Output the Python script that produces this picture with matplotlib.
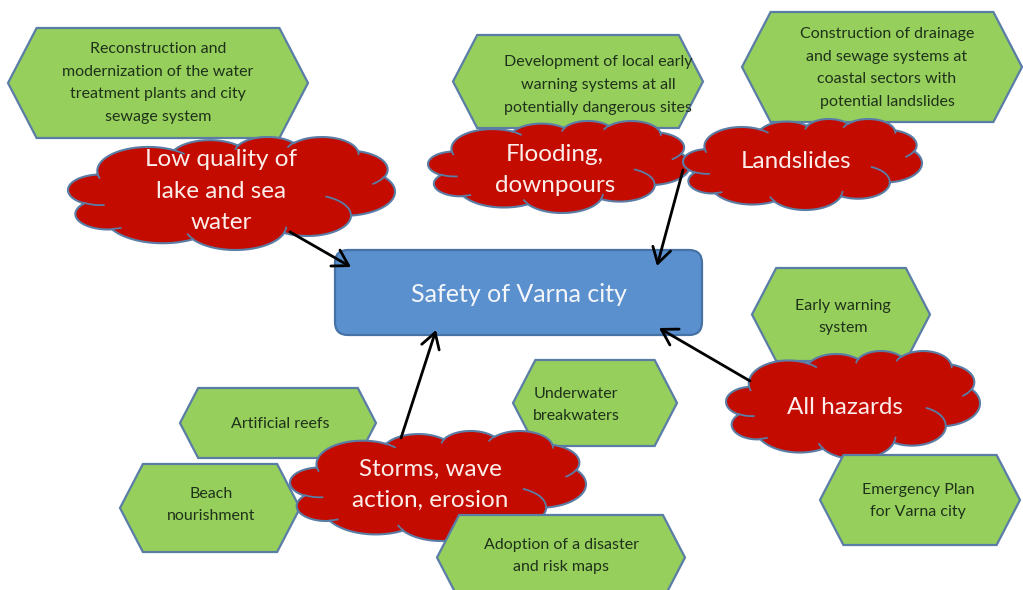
import numpy as np
import matplotlib
matplotlib.use('Agg')
import matplotlib.pyplot as plt
from matplotlib.patches import Polygon, FancyBboxPatch, FancyArrowPatch

plt.rcParams['font.family'] = ['Lato', 'DejaVu Sans']

# ---------------- content ----------------
center_label = "Safety of Varna city"

hazard_labels = [
    "Low quality of\nlake and sea\nwater",
    "Flooding,\ndownpours",
    "Landslides",
    "All hazards",
    "Storms, wave\naction, erosion",
]

measure_labels = [
    "Reconstruction and\nmodernization of the water\ntreatment plants and city\nsewage system",
    "Development of local early\nwarning systems at all\npotentially dangerous sites",
    "Construction of drainage\nand sewage systems at\ncoastal sectors with\npotential landslides",
    "Early warning\nsystem",
    "Emergency Plan\nfor Varna city",
    "Underwater\nbreakwaters",
    "Artificial reefs",
    "Beach\nnourishment",
    "Adoption of a disaster\nand risk maps",
]

# ---------------- layout (pixel space) ----------------
hazard_boxes = [(68, 395, 137, 250), (428, 690, 121, 213), (683, 922, 119, 210),
                (726, 980, 351, 459), (290, 586, 431, 541)]
hazard_text = [(221, 191), (555, 170), (796, 162), (845, 408), (430, 485)]

measure_boxes = [(8, 308, 28, 138), (453, 703, 35, 128), (742, 1022, 12, 122),
                 (752, 930, 268, 361), (820, 1020, 455, 545), (513, 677, 360, 446),
                 (180, 376, 388, 458), (120, 300, 464, 552), (437, 685, 515, 600)]
measure_text = [(158, 83), (598, 85), (887, 68), (843, 317), (918, 501),
                (576, 405), (280, 424), (211, 505), (561, 556)]
measure_z = [1, 1, 1, 1, 4, 1, 1, 1, 4]

center_box = (335, 250, 367, 85)
arrows = [((290, 232), (351, 267)), ((683, 170), (657, 266)),
          ((750, 381), (659, 328)), ((401, 438), (436, 330))]

GREEN = '#97CF5C'
EDGE = '#5A7DA6'
RED = '#C30B00'
BLUE = '#5B90CE'
BLUE_EDGE = '#4573A6'
HEX_TEXT = '#1E321A'

# Office "cloud" preset geometry (43200 x 43200 space, angles in 1/60000 deg)
CLOUD_START = (3900, 14370)
CLOUD_ARCS = [(6753, 9190, -11429249, 7426832), (5333, 7267, -8646143, 5396714),
              (4365, 5945, -8748475, 5983381), (4857, 6595, -7859164, 7034504),
              (5333, 7273, -4722533, 6541615), (6775, 9220, -2776035, 7816140),
              (5785, 7867, 37501, 6842000), (6752, 9215, 1347096, 6910353),
              (7720, 10543, 3974558, 4542661), (4360, 5918, -16496525, 8804134),
              (4345, 5945, -14809710, 9151131)]
CLOUD_CURLS = [((4693, 26177), (4345, 5945, 5204520, 1585770)),
               ((6928, 34899), (4360, 5918, 4416628, 686848)),
               ((16478, 39090), (6752, 9215, 8257449, 844866)),
               ((28827, 34751), (6752, 9215, 387196, 959901)),
               ((34129, 22954), (5785, 7867, -4217541, 4255042)),
               ((41798, 15354), (5333, 7273, 1819082, 1665090)),
               ((38324, 5426), (4857, 6595, -824660, 891225)),
               ((29078, 3952), (4857, 6595, -8950887, 1091815)),
               ((22141, 4720), (4365, 5945, -9809656, 1061181)),
               ((14000, 5192), (6753, 9190, -4002417, 739161)),
               ((4127, 15789), (6753, 9190, 9459261, 711490))]

fig = plt.figure(figsize=(10.23, 5.90), dpi=100)
ax = fig.add_axes([0, 0, 1, 1])
ax.set_xlim(0, 1023)
ax.set_ylim(590, 0)
ax.axis('off')


def hexagon(x0, x1, y0, y1):
    d = 0.26 * (y1 - y0)
    ym = (y0 + y1) / 2
    return [(x0, ym), (x0 + d, y0), (x1 - d, y0), (x1, ym), (x1 - d, y1), (x0 + d, y1)]


def arc_to(p, wr, hr, st, sw, npts=40):
    th = np.radians(np.linspace(st, st + sw, npts) / 60000.0)
    t = np.unwrap(np.arctan2(wr * np.sin(th), hr * np.cos(th)))
    t0 = t[0]
    cx = p[0] - wr * np.cos(t0)
    cy = p[1] - hr * np.sin(t0)
    return np.column_stack([cx + wr * np.cos(t), cy + hr * np.sin(t)])


def cloud_geometry():
    pts = [np.array([CLOUD_START], float)]
    p = CLOUD_START
    for wr, hr, st, sw in CLOUD_ARCS:
        seg = arc_to(p, wr, hr, st, sw)
        pts.append(seg)
        p = seg[-1]
    outline = np.vstack(pts)
    curls = [arc_to(s, *a, npts=20) for s, a in CLOUD_CURLS]
    return outline, curls


base_outline, base_curls = cloud_geometry()
bx0, by0 = base_outline.min(axis=0)
bx1, by1 = base_outline.max(axis=0)


def place(arr, box):
    x0, x1, y0, y1 = box
    out = np.empty_like(arr)
    out[:, 0] = x0 + (arr[:, 0] - bx0) / (bx1 - bx0) * (x1 - x0)
    out[:, 1] = y0 + (arr[:, 1] - by0) / (by1 - by0) * (y1 - y0)
    return out


# measures (hexagons)
for lab, box, tp, z in zip(measure_labels, measure_boxes, measure_text, measure_z):
    ax.add_patch(Polygon(hexagon(*box), closed=True, fc=GREEN, ec=EDGE, lw=1.6, zorder=z))
    ax.text(tp[0], tp[1], lab, ha='center', va='center', fontsize=11.5,
            color=HEX_TEXT, linespacing=1.8, zorder=z + 0.5)

# hazards (clouds)
for lab, box, tp in zip(hazard_labels, hazard_boxes, hazard_text):
    ax.add_patch(Polygon(place(base_outline, box), closed=True, fc=RED, ec=EDGE,
                         lw=1.5, zorder=2))
    for cl in base_curls:
        c = place(cl, box)
        ax.plot(c[:, 0], c[:, 1], color=EDGE, lw=1.3, zorder=2.2)
    ax.text(tp[0], tp[1], lab, ha='center', va='center', fontsize=17.5,
            color='#FCEDEA', linespacing=1.6, zorder=3)

# centre box
bx, by, bw, bh = center_box
ax.add_patch(FancyBboxPatch((bx, by), bw, bh, boxstyle='round,pad=0,rounding_size=13',
                            fc=BLUE, ec=BLUE_EDGE, lw=1.6, zorder=2))
ax.text(bx + bw / 2, by + bh / 2 + 2, center_label, ha='center', va='center',
        fontsize=18, color='#F4F6FA', zorder=3)

# arrows
for a0, a1 in arrows:
    ax.add_patch(FancyArrowPatch(a0, a1, arrowstyle='->,head_length=0.55,head_width=0.33',
                                 mutation_scale=20, lw=2, color='black',
                                 shrinkA=0, shrinkB=0, zorder=6))

fig.savefig('out.png', dpi=100)
